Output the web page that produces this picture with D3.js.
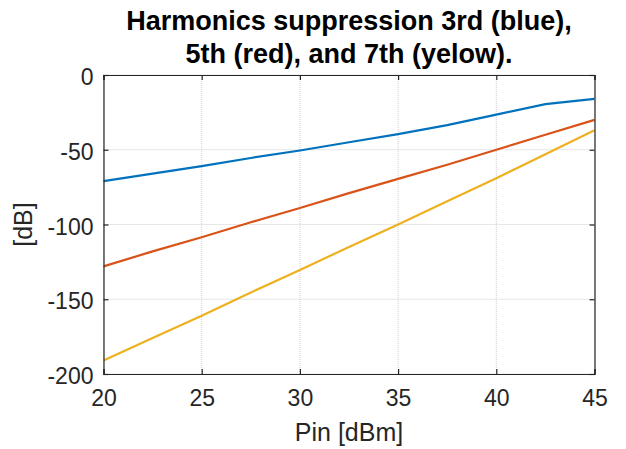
<!DOCTYPE html>
<html>
<head>
<meta charset="utf-8">
<script src="https://cdn.jsdelivr.net/npm/d3@7"></script>
<style>
  body { margin: 0; background: #fff; }
  text { font-family: "Liberation Sans", Arial, sans-serif; }
</style>
</head>
<body>
<script>
// input power, dBm
let pin = [20, 22.5, 25, 27.5, 30, 32.5, 35, 37.5, 40, 42.5, 45];
let third = [-71, -66, -61, -55.5, -50.5, -45, -39.5, -33.5, -26.5, -19.5, -16];
let fifth = [-128, -118, -108.5, -98.5, -89, -79, -69.5, -60, -50, -40, -30];
let seventh = [-191, -176, -161, -145.5, -130.5, -115, -100, -84.5, -69, -53, -37];
let xTicks = [20, 25, 30, 35, 40, 45];
let yTicks = [0, -50, -100, -150, -200];
let colors = ["#0072BD", "#D95319", "#EDB120"];

let width = 626, height = 449;
let margin = {left: 103.5, right: 31.5, top: 75, bottom: 75};
let w = width - margin.left - margin.right;
let h = height - margin.top - margin.bottom;

let svg = d3.select("body").append("svg").attr("width", width).attr("height", height)
let g = svg.append("g").attr("transform", "translate(" + margin.left + "," + margin.top + ")")

let x = d3.scaleLinear().domain([20, 45]).range([0, w]);
let y = d3.scaleLinear().domain([-200, 0]).range([h, 0]);

// grid
g.selectAll(".gx").data(xTicks).enter().append("line")
  .attr("x1", d => x(d)).attr("x2", d => x(d)).attr("y1", 0).attr("y2", h)
  .attr("stroke", "#cfcfcf").attr("stroke-width", 1).attr("stroke-dasharray", "1,1")
g.selectAll(".gy").data(yTicks).enter().append("line")
  .attr("y1", d => y(d)).attr("y2", d => y(d)).attr("x1", 0).attr("x2", w)
  .attr("stroke", "#cfcfcf").attr("stroke-width", 1).attr("stroke-dasharray", "1,1")

// lines
let series = [third, fifth, seventh];
let line = d3.line().x((d, i) => x(pin[i])).y(d => y(d));
g.selectAll(".s").data(series).enter().append("path")
  .attr("d", d => line(d))
  .attr("fill", "none")
  .attr("stroke", (d, i) => colors[i])
  .attr("stroke-width", 2.2)

// axes (ticks inward, box)
let axColor = "#262626";
let fmt = d => String(d);
let axBottom = g.append("g").attr("transform", "translate(0," + h + ")")
  .call(d3.axisBottom(x).tickValues(xTicks).tickFormat(fmt).tickSize(-5).tickPadding(15));
let axLeft = g.append("g")
  .call(d3.axisLeft(y).tickValues(yTicks).tickFormat(fmt).tickSize(-5).tickPadding(10));
let axTop = g.append("g")
  .call(d3.axisTop(x).tickValues(xTicks).tickSize(-5).tickFormat(""));
let axRight = g.append("g").attr("transform", "translate(" + w + ",0)")
  .call(d3.axisRight(y).tickValues(yTicks).tickSize(-5).tickFormat(""));

[axBottom, axLeft, axTop, axRight].forEach(a => {
  a.select(".domain").attr("stroke", axColor).attr("stroke-width", 1.2);
  a.selectAll(".tick line").attr("stroke", axColor).attr("stroke-width", 1.2);
  a.selectAll(".tick text").attr("fill", axColor)
    .style("font-family", "'Liberation Sans', Arial, sans-serif").style("font-size", "23px");
});
axBottom.selectAll(".tick text").attr("dy", "0.72em");
axLeft.selectAll(".tick text").attr("dy", "0.42em");

// labels
svg.append("text")
  .attr("x", margin.left + w / 2).attr("y", 441)
  .attr("text-anchor", "middle").attr("fill", axColor)
  .style("font-size", "25px").text("Pin [dBm]")
svg.append("text")
  .attr("transform", "translate(32," + (margin.top + h / 2) + ") rotate(-90)")
  .attr("text-anchor", "middle").attr("fill", axColor)
  .style("font-size", "25px").text("[dB]")

let title = svg.append("text")
  .attr("x", margin.left + w / 2).attr("text-anchor", "middle")
  .attr("fill", "#000").style("font-size", "27px").style("font-weight", "bold")
title.append("tspan").attr("x", margin.left + w / 2).attr("y", 30).text("Harmonics suppression 3rd (blue),")
title.append("tspan").attr("x", margin.left + w / 2).attr("y", 63).text("5th (red), and 7th (yelow).")
</script>
</body>
</html>
